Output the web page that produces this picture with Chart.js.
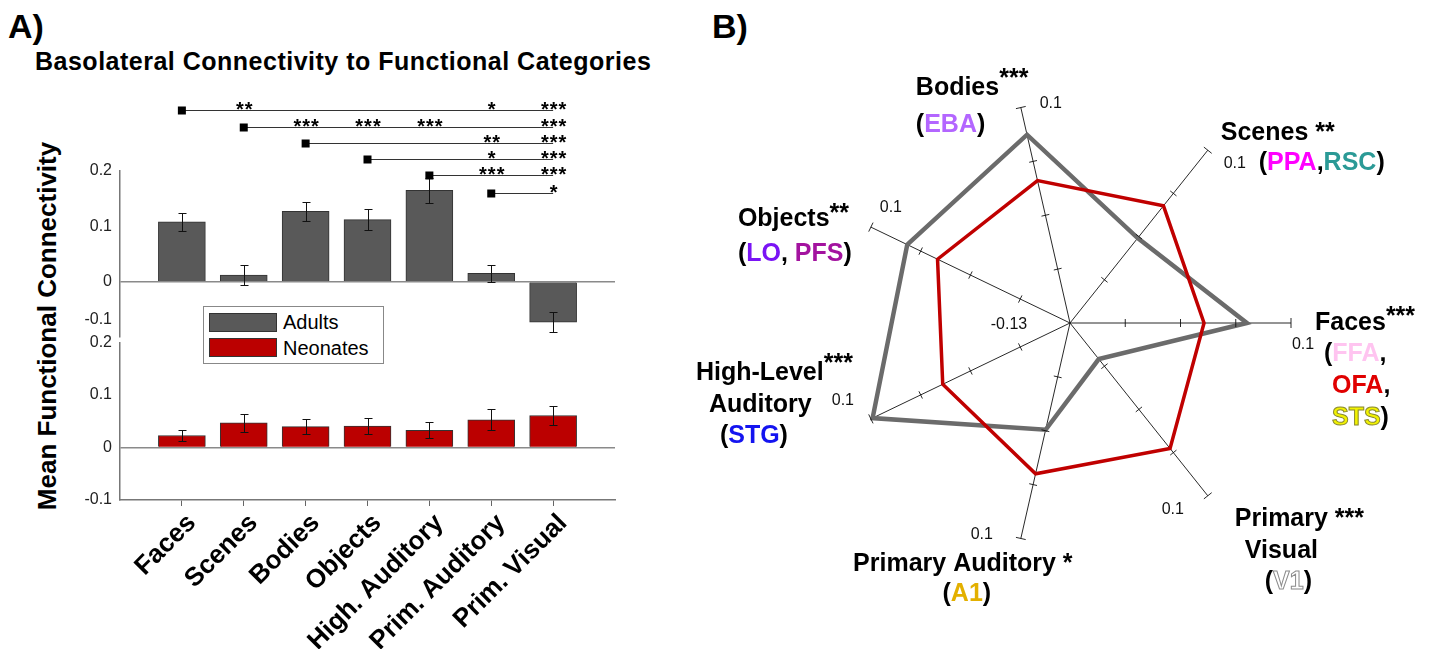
<!DOCTYPE html>
<html>
<head>
<meta charset="utf-8">
<script src="https://cdn.jsdelivr.net/npm/chart.js@4.4.0/dist/chart.umd.min.js"></script>
<style>
  body { margin: 0; background: #fff; width: 1443px; height: 649px; overflow: hidden; position: relative;
         font-family: "Liberation Sans", Arial, sans-serif; color: #000; }
  .abs { position: absolute; white-space: nowrap; line-height: 1; }
  canvas { position: absolute; }
  .sw { position: absolute; width: 66px; height: 17px; border: 1px solid #333; }
</style>
</head>
<body>

<div class="abs" style="left:8px;top:9px;font-size:34px;font-weight:bold;">A)</div>
<div class="abs" style="left:712px;top:9px;font-size:34px;font-weight:bold;">B)</div>
<div class="abs" style="left:35px;top:49px;font-size:25px;font-weight:bold;letter-spacing:0.5px;">Basolateral Connectivity to Functional Categories</div>
<div class="abs" style="left:47px;top:326px;font-size:26px;font-weight:bold;transform:translate(-50%,-50%) rotate(-90deg);">Mean Functional Connectivity</div>

<canvas id="adultChart" width="640" height="262" style="left:0;top:95px;"></canvas>
<canvas id="neoChart" width="640" height="324" style="left:0;top:325px;"></canvas>
<canvas id="radarChart" width="753" height="600" style="left:690px;top:40px;"></canvas>

<!-- leyenda del panel A -->
<div class="abs" style="left:203px;top:306px;width:181px;height:58px;box-sizing:border-box;border:1px solid #888;background:#fff;"></div>
<div class="sw" style="left:209px;top:313px;background:#595959;"></div>
<div class="sw" style="left:209px;top:338px;background:#bb0000;"></div>
<div class="abs" style="left:283px;top:312px;font-size:20px;">Adults</div>
<div class="abs" style="left:283px;top:338px;font-size:20px;">Neonates</div>

<script>
// categorias del panel A
const categories = ['Faces', 'Scenes', 'Bodies', 'Objects', 'High. Auditory', 'Prim. Auditory', 'Prim. Visual'];

// medias y errores (adultos / neonatos)
const adultMeans = [0.108, 0.012, 0.127, 0.112, 0.165, 0.015, -0.073];
const adultErr = [0.017, 0.018, 0.017, 0.019, 0.023, 0.016, 0.018];
const neoMeans = [0.023, 0.047, 0.040, 0.041, 0.033, 0.053, 0.061];
const neoErr = [0.011, 0.017, 0.015, 0.015, 0.015, 0.020, 0.018];

const yTicks = [-0.1, 0, 0.1, 0.2];

// comparaciones significativas: desde que categoria sale cada linea y estrellas por categoria
const sigFrom = [0, 1, 2, 3, 4, 5];
const sigLevels = [0.311, 0.280, 0.250, 0.222, 0.192, 0.161];
const sigStars = [
  ['', '**', '', '', '', '*', '***'],
  ['', '', '***', '***', '***', '', '***'],
  ['', '', '', '', '', '**', '***'],
  ['', '', '', '', '', '*', '***'],
  ['', '', '', '', '', '***', '***'],
  ['', '', '', '', '', '', '*']
];

// panel B: orden en sentido horario empezando por la derecha
const radarLabels = ['Faces', 'Primary Visual', 'Primary Auditory', 'High-Level Auditory', 'Objects', 'Bodies', 'Scenes'];
const radarAdults = [0.054, -0.082, -0.016, 0.098, 0.058, 0.071, -0.017];
const radarNeonates = [0.0095, 0.037, 0.031, 0.017, 0.023, 0.022, 0.026];
const radarMin = -0.13;
const radarMax = 0.1;
const radarTicks = [-0.0725, -0.015, 0.0425, 0.1];

const FONT = '"Liberation Sans", Arial, sans-serif';
Chart.defaults.font.family = FONT;
Chart.defaults.color = '#222';

// barras de error
const errBars = {
  id: 'errBars',
  afterDatasetsDraw(chart, args, opts) {
    const ctx = chart.ctx;
    const ys = chart.scales.y;
    const meta = chart.getDatasetMeta(0);
    const vals = chart.data.datasets[0].data;
    ctx.save();
    ctx.strokeStyle = '#111';
    ctx.lineWidth = 1;
    meta.data.forEach((bar, i) => {
      const v = vals[i].y, e = opts.errors[i];
      const x = Math.round(bar.x) + 0.5;
      const y1 = Math.round(ys.getPixelForValue(v - e)) + 0.5;
      const y2 = Math.round(ys.getPixelForValue(v + e)) + 0.5;
      ctx.beginPath();
      ctx.moveTo(x, y1); ctx.lineTo(x, y2);
      ctx.moveTo(x - 4, y1); ctx.lineTo(x + 4, y1);
      ctx.moveTo(x - 4, y2); ctx.lineTo(x + 4, y2);
      ctx.stroke();
    });
    ctx.restore();
  }
};

// lineas de significancia sobre el grafico de adultos
const sigLines = {
  id: 'sigLines',
  afterDraw(chart) {
    const ctx = chart.ctx;
    const xs = chart.scales.x, ys = chart.scales.y;
    ctx.save();
    sigLevels.forEach((lvl, r) => {
      const yy = Math.round(ys.getPixelForValue(lvl)) + 0.5;
      const x0 = xs.getPixelForValue(sigFrom[r] + 1);
      const x1 = xs.getPixelForValue(categories.length);
      ctx.strokeStyle = '#333';
      ctx.lineWidth = 1.2;
      ctx.beginPath(); ctx.moveTo(x0, yy); ctx.lineTo(x1, yy); ctx.stroke();
      ctx.fillStyle = '#000';
      ctx.fillRect(x0 - 4, yy - 4, 8, 8);
      ctx.font = 'bold 20px ' + FONT;
      ctx.textAlign = 'center';
      ctx.letterSpacing = '1px';
      sigStars[r].forEach((s, c) => {
        if (s) ctx.fillText(s, xs.getPixelForValue(c + 1) + 1, yy + 5);
      });
    });
    // la etiqueta -0.1 de arriba queda un poco mas alta, como en la figura
    ctx.letterSpacing = '0px';
    ctx.font = '16px ' + FONT;
    ctx.fillStyle = '#222';
    ctx.textAlign = 'right';
    ctx.textBaseline = 'middle';
    ctx.fillText('-0.1', chart.chartArea.left - 8, ys.getPixelForValue(-0.1) - 17);
    ctx.restore();
  }
};

function yScale(top) {
  return {
    min: -0.1, max: 0.2,
    afterFit: s => { s.width = 120; },
    afterBuildTicks: s => { s.ticks = yTicks.map(v => ({ value: v })); },
    ticks: {
      padding: 8, color: '#222', font: { size: 16 }, autoSkip: false,
      callback: v => (top && v === -0.1) ? '' : String(v)
    },
    grid: {
      drawTicks: false, lineWidth: 1.5,
      color: c => c.tick && c.tick.value === 0 ? '#8a8a8a' : 'rgba(0,0,0,0)'
    },
    border: { display: true, color: '#777', width: 1.5 }
  };
}

function barData(means, label, color) {
  return {
    datasets: [{
      label: label,
      data: categories.map((c, i) => ({ x: i + 1, y: means[i] })),
      backgroundColor: color,
      borderColor: '#333',
      borderWidth: 1,
      barThickness: 47
    }]
  };
}

// grafico de adultos (arriba)
new Chart(document.getElementById('adultChart'), {
  type: 'bar',
  data: barData(adultMeans, 'Adults', '#595959'),
  options: {
    responsive: false, animation: false, devicePixelRatio: 1,
    layout: { padding: { left: 0, right: 25, top: 76, bottom: 20 } },
    plugins: { legend: { display: false }, tooltip: { enabled: false }, errBars: { errors: adultErr } },
    scales: {
      x: { type: 'linear', min: 0, max: 8, offset: false, display: false, grid: { offset: false } },
      y: yScale(true)
    }
  },
  plugins: [errBars, sigLines]
});

// grafico de neonatos (abajo)
new Chart(document.getElementById('neoChart'), {
  type: 'bar',
  data: barData(neoMeans, 'Neonates', '#bb0000'),
  options: {
    responsive: false, animation: false, devicePixelRatio: 1,
    layout: { padding: { left: 0, right: 25, top: 10, bottom: 0 } },
    plugins: { legend: { display: false }, tooltip: { enabled: false }, errBars: { errors: neoErr } },
    scales: {
      x: {
        type: 'linear', min: 0, max: 8, offset: false,
        afterBuildTicks: s => { s.ticks = categories.map((c, i) => ({ value: i + 1 })); },
        afterFit: s => { s.height = 149; },
        ticks: {
          autoSkip: false, maxRotation: 45, minRotation: 45, padding: 2, labelOffset: 10,
          color: '#000', font: { size: 26, weight: 'bold' },
          callback: v => categories[v - 1]
        },
        grid: { drawOnChartArea: false, drawTicks: true, tickLength: 6, color: '#666', offset: false },
        border: { display: true, color: '#777', width: 1.5 }
      },
      y: yScale(false)
    }
  },
  plugins: [errBars]
});

// etiquetas del radar: [texto, color, desplazamiento vertical, contorno]
const radarText = [
  [ // Faces
    { dx: 24, dy: 7, segs: [['Faces', '#000'], ['***', '#000', -6]] },
    { dx: 33, dy: 38, segs: [['(', '#000'], ['FFA', '#ffc4f0'], [',', '#000']] },
    { dx: 41, dy: 70, segs: [['OFA', '#e00000'], [',', '#000']] },
    { dx: 41, dy: 102, segs: [['STS', '#f2f200', 0, '#8a8a30'], [')', '#000']] }
  ],
  [ // Primary Visual
    { dx: 27, dy: 30, segs: [['Primary ', '#000'], ['***', '#000']] },
    { dx: 37, dy: 62, segs: [['Visual', '#000']] },
    { dx: 57, dy: 93, segs: [['(', '#000'], ['V1', '#ffffff', 0, '#8c8c8c'], [')', '#000']] }
  ],
  [ // Primary Auditory
    { dx: -58, dy: 33, center: true, segs: [['Primary Auditory ', '#000'], ['*', '#000']] },
    { dx: -54, dy: 63, center: true, segs: [['(', '#000'], ['A1', '#e3b000'], [')', '#000']] }
  ],
  [ // High-Level Auditory
    { dx: -175, dy: -39, segs: [['High-Level', '#000'], ['***', '#000', -9]] },
    { dx: -162, dy: -7, segs: [['Auditory', '#000']] },
    { dx: -151, dy: 24, segs: [['(', '#000'], ['STG', '#1414f0'], [')', '#000']] }
  ],
  [ // Objects
    { dx: -133, dy: -1, segs: [['Objects', '#000'], ['**', '#000', -5]] },
    { dx: -133, dy: 34, segs: [['(', '#000'], ['LO', '#7a14f5'], [', ', '#000'], ['PFS', '#a3139f'], [')', '#000']] }
  ],
  [ // Bodies
    { dx: -105, dy: -13, segs: [['Bodies', '#000'], ['***', '#000', -9]] },
    { dx: -105, dy: 24, segs: [['(', '#000'], ['EBA', '#b366ff'], [')', '#000']] }
  ],
  [ // Scenes
    { dx: 13, dy: -10, segs: [['Scenes ', '#000'], ['**', '#000']] },
    { dx: 51, dy: 20, segs: [['(', '#000'], ['PPA', '#ff00ff'], [',', '#000'], ['RSC', '#2b9a96'], [')', '#000']] }
  ]
];
// posicion del "0.1" junto al extremo de cada eje
const maxLabelOffset = [[12, 22], [-35, 14], [-39, -4], [-28, -18], [20, -20], [30, -4], [27, 13]];

const radarDecor = {
  id: 'radarDecor',
  afterDraw(chart) {
    const ctx = chart.ctx;
    const r = chart.scales.r;
    ctx.save();
    // marcas sobre cada eje
    ctx.strokeStyle = '#111';
    ctx.lineWidth = 0.9;
    radarLabels.forEach((lab, i) => {
      const a = r.getIndexAngle(i) - Math.PI / 2;
      const px = -Math.sin(a), py = Math.cos(a);
      radarTicks.forEach(v => {
        const p = r.getPointPositionForValue(i, v);
        const h = v === radarMax ? 5 : 4;
        ctx.beginPath();
        ctx.moveTo(p.x - px * h, p.y - py * h);
        ctx.lineTo(p.x + px * h, p.y + py * h);
        ctx.stroke();
      });
    });
    // valores de escala
    ctx.fillStyle = '#111';
    ctx.font = '16px ' + FONT;
    ctx.textAlign = 'center';
    ctx.textBaseline = 'middle';
    radarLabels.forEach((lab, i) => {
      const p = r.getPointPositionForValue(i, radarMax);
      ctx.fillText(String(radarMax), p.x + maxLabelOffset[i][0], p.y + maxLabelOffset[i][1]);
    });
    ctx.fillText(String(radarMin), r.xCenter - 61, r.yCenter + 2);
    // nombres de categorias
    ctx.textBaseline = 'alphabetic';
    ctx.textAlign = 'left';
    ctx.font = 'bold 25px ' + FONT;
    radarText.forEach((lines, i) => {
      const p = r.getPointPositionForValue(i, radarMax);
      lines.forEach(line => {
        const widths = line.segs.map(s => ctx.measureText(s[0]).width);
        const total = widths.reduce((a, b) => a + b, 0);
        let x = p.x + line.dx - (line.center ? total / 2 : 0);
        const y = p.y + line.dy;
        line.segs.forEach((s, k) => {
          const yy = y + (s[2] || 0);
          ctx.fillStyle = s[1];
          ctx.fillText(s[0], x, yy);
          if (s[3]) {
            ctx.strokeStyle = s[3];
            ctx.lineWidth = 1;
            ctx.strokeText(s[0], x, yy);
          }
          x += widths[k];
        });
      });
    });
    ctx.restore();
  }
};

new Chart(document.getElementById('radarChart'), {
  type: 'radar',
  data: {
    labels: radarLabels,
    datasets: [
      { label: 'Adults', data: radarAdults, borderColor: '#6b6b6b', borderWidth: 4.5, fill: false,
        pointRadius: 0, order: 1, borderJoinStyle: 'miter', tension: 0 },
      { label: 'Neonates', data: radarNeonates, borderColor: '#c00000', borderWidth: 3.5, fill: false,
        pointRadius: 0, order: 0, borderJoinStyle: 'miter', tension: 0 }
    ]
  },
  options: {
    responsive: false, animation: false, devicePixelRatio: 1,
    layout: { padding: { left: 159, right: 152, top: 62, bottom: 96 } },
    plugins: { legend: { display: false }, tooltip: { enabled: false } },
    scales: {
      r: {
        min: radarMin, max: radarMax, startAngle: 90,
        ticks: { display: false },
        grid: { display: false },
        pointLabels: { display: false },
        angleLines: { display: true, color: '#111', lineWidth: 0.9 }
      }
    }
  },
  plugins: [radarDecor]
});
</script>
</body>
</html>
